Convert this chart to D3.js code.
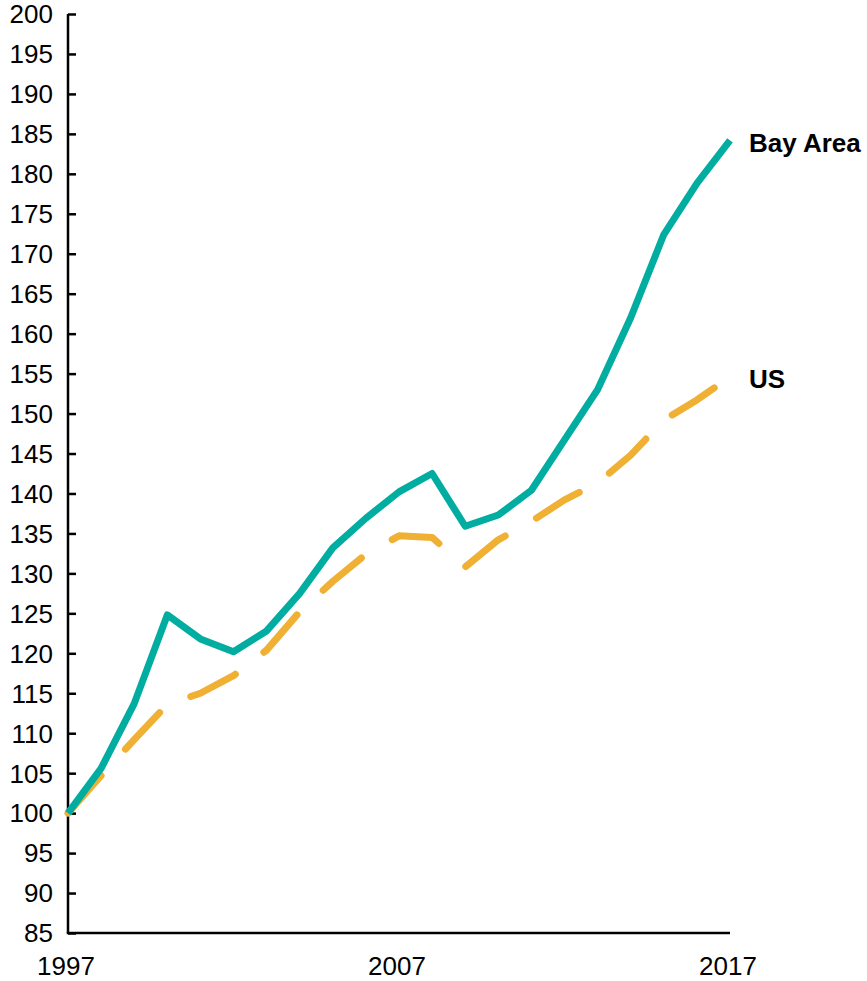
<!DOCTYPE html>
<html>
<head>
<meta charset="utf-8">
<script src="https://cdn.jsdelivr.net/npm/d3@7"></script>
<style>
  html, body { margin: 0; padding: 0; background: #fff; }
  svg { display: block; }
  text { font-family: "Liberation Sans", Arial, sans-serif; fill: #000; }
</style>
</head>
<body>
<svg id="chart" width="867" height="981"></svg>
<script>
const years = d3.range(1997, 2018);
const bayArea = [100, 105.6, 113.7, 124.8, 121.8, 120.2, 122.8, 127.5, 133.2, 136.9, 140.2, 142.5, 135.9, 137.3, 140.4, 146.7, 153, 162, 172.4, 178.8, 184.2];
const us = [100, 104.7, 109.2, 113.6, 115, 117.2, 120.4, 125.2, 129, 132.4, 134.7, 134.5, 130.8, 134.2, 136.5, 139.2, 141.3, 144.8, 149.2, 151.7, 154.6];
const yTicks = d3.range(85, 201, 5);
const xTickLabels = [1997, 2007, 2017];
const seriesNames = ["Bay Area", "US"];
const seriesColors = ["#00ADA0", "#EFB033"];

const svg = d3.select("#chart");
const x = d3.scaleLinear().domain([1997, 2017]).range([68, 730]);
const y = d3.scaleLinear().domain([85, 200]).range([933, 14]);

// y axis
const yAxis = d3.axisRight(y).tickValues(yTicks).tickSize(8).tickFormat("");
const gy = svg.append("g").attr("transform", `translate(${x(1997)},0)`).call(yAxis);
gy.select(".domain").attr("stroke", "#000").attr("stroke-width", 2.5).attr("d", `M0,${y(200)}V${y(85)}`);
gy.selectAll(".tick line").attr("stroke", "#000").attr("stroke-width", 2.5);

svg.append("g").selectAll("text").data(yTicks).join("text")
  .attr("x", 53).attr("y", d => y(d)).attr("dy", "0.36em")
  .attr("text-anchor", "end").attr("font-size", 26).text(d => d);

// x axis
svg.append("line").attr("x1", x(1997) - 1.25).attr("x2", x(2017)).attr("y1", y(85)).attr("y2", y(85))
  .attr("stroke", "#000").attr("stroke-width", 2.5);
svg.append("g").selectAll("text").data(xTickLabels).join("text")
  .attr("x", d => x(d) - 2).attr("y", 975)
  .attr("text-anchor", "middle").attr("font-size", 26).text(d => d);

const line = d3.line().x((d, i) => x(years[i])).y(d => y(d));

svg.append("path").datum(us).attr("d", line)
  .attr("fill", "none").attr("stroke", seriesColors[1]).attr("stroke-width", 7)
  .attr("stroke-linecap", "round").attr("stroke-linejoin", "round")
  .attr("stroke-dasharray", "50,36");

svg.append("path").datum(bayArea).attr("d", line)
  .attr("fill", "none").attr("stroke", seriesColors[0]).attr("stroke-width", 7)
  .attr("stroke-linejoin", "round");

const ends = [bayArea[bayArea.length - 1], us[us.length - 1]];
svg.append("g").selectAll("text").data(seriesNames).join("text")
  .attr("x", 749).attr("y", (d, i) => y(ends[i])).attr("dy", "0.44em")
  .attr("font-size", 26).attr("font-weight", "bold").text(d => d);
</script>
</body>
</html>
